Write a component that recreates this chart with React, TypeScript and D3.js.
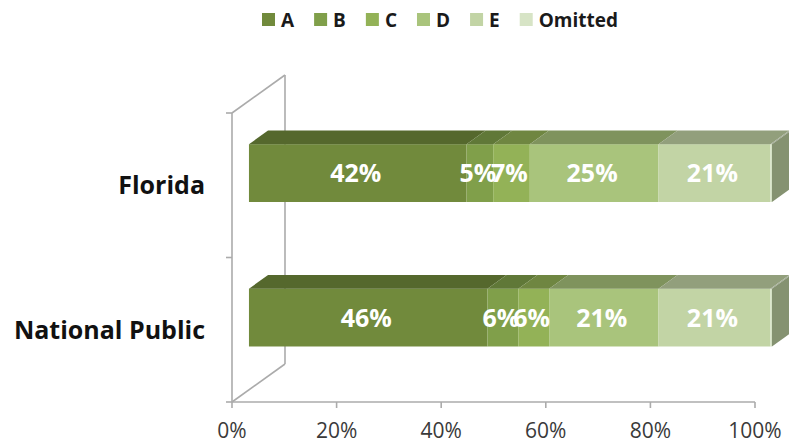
import * as d3 from "d3";
import {useEffect, useRef} from "react";

const categories = ["Florida", "National Public"];
const seriesNames = ["A", "B", "C", "D", "E", "Omitted"];
const floridaValues = [41.6, 5.1, 7.0, 24.6, 21.4, 0.3];
const nationalValues = [45.6, 5.9, 5.9, 20.9, 21.4, 0.3];
const xTicks = [0, 20, 40, 60, 80, 100];
const seriesColors = ["#718a3c", "#809f4a", "#93b257", "#a9c47c", "#c2d4a5", "#d7e4c6"];

const W = 789;
const H = 442;

const App = () => {
    const svgRef = useRef(null);

    useEffect(() => {
        if (!svgRef.current) return;
        const svg = d3.select(svgRef.current);
        svg.selectAll("*").remove();

        const font = "'Open Sans', sans-serif";
        const rows = [floridaValues, nationalValues];

        // front plane of the 3D box
        const plot = {left: 232, right: 755, top: 113, bottom: 402};
        const depth = {dx: 53, dy: -38};
        const barFront = 0.32, barBack = 0.68; // bar position inside the depth

        const x = d3.scaleLinear().domain([0, 100]).range([plot.left, plot.right]);
        const y = d3.scaleBand<string>()
            .domain(categories)
            .range([plot.top, plot.bottom])
            .paddingInner(0.6)
            .paddingOuter(0.3);

        const wall = svg.append("g")
            .attr("fill", "none")
            .attr("stroke", "#ababab")
            .attr("stroke-width", 1.6);

        // walls edges + value axis line
        const lines: [number, number, number, number][] = [
            [plot.left, plot.top, plot.left, plot.bottom],
            [plot.left + depth.dx, plot.top + depth.dy, plot.left + depth.dx, plot.bottom + depth.dy],
            [plot.left, plot.top, plot.left + depth.dx, plot.top + depth.dy],
            [plot.left, plot.bottom, plot.left + depth.dx, plot.bottom + depth.dy],
            [plot.left, plot.bottom, plot.right, plot.bottom],
        ];
        wall.selectAll("line.edge")
            .data(lines)
            .enter()
            .append("line")
            .attr("class", "edge")
            .attr("x1", d => d[0]).attr("y1", d => d[1])
            .attr("x2", d => d[2]).attr("y2", d => d[3]);

        // category ticks on the left edge (band boundaries)
        const catTicks = [plot.top, ...categories.slice(1).map(c => y(c)! - y.step() * y.paddingInner() / 2), plot.bottom];
        wall.selectAll("line.ctick")
            .data(catTicks)
            .enter()
            .append("line")
            .attr("x1", plot.left - 6).attr("x2", plot.left)
            .attr("y1", d => d).attr("y2", d => d);

        // value ticks
        wall.selectAll("line.xtick")
            .data(xTicks)
            .enter()
            .append("line")
            .attr("x1", d => x(d)).attr("x2", d => x(d))
            .attr("y1", plot.bottom).attr("y2", plot.bottom + 6);

        svg.append("g")
            .selectAll("text")
            .data(xTicks)
            .enter()
            .append("text")
            .attr("x", d => x(d))
            .attr("y", 438)
            .attr("text-anchor", "middle")
            .attr("font-family", font)
            .attr("font-size", 21)
            .attr("fill", "#3a3a3a")
            .text(d => d + "%");

        // category labels
        svg.append("g")
            .selectAll("text")
            .data(categories)
            .enter()
            .append("text")
            .attr("x", 205)
            .attr("y", d => y(d)! + y.bandwidth() / 2)
            .attr("dy", "0.36em")
            .attr("text-anchor", "end")
            .attr("font-family", font)
            .attr("font-weight", "bold")
            .attr("font-size", 25)
            .attr("fill", "#111")
            .text(d => d);

        // bars
        const fx = depth.dx * barFront, fy = depth.dy * barFront;
        const tx = depth.dx * (barBack - barFront), ty = depth.dy * (barBack - barFront);

        rows.forEach((vals, ri) => {
            const cat = categories[ri];
            const y0 = y(cat)! + fy;
            const h = y.bandwidth();
            const g = svg.append("g");
            let cum = 0;
            const segs = vals.map((v, i) => {
                const s = {i, v, start: cum, end: cum + v};
                cum += v;
                return s;
            });

            segs.forEach(s => {
                const x0 = x(s.start) + fx, x1 = x(s.end) + fx;
                const base = seriesColors[s.i];
                g.append("rect")
                    .attr("x", x0).attr("y", y0)
                    .attr("width", x1 - x0).attr("height", h)
                    .attr("fill", base);
                g.append("path")
                    .attr("d", `M${x0},${y0}L${x1},${y0}L${x1 + tx},${y0 + ty}L${x0 + tx},${y0 + ty}Z`)
                    .attr("fill", d3.color(base)!.darker(0.8).toString());
            });

            // right side face
            const last = segs[segs.length - 1];
            const xr = x(last.end) + fx;
            g.append("path")
                .attr("d", `M${xr},${y0}L${xr + tx},${y0 + ty}L${xr + tx},${y0 + ty + h}L${xr},${y0 + h}Z`)
                .attr("fill", d3.color(seriesColors[4])!.darker(1.05).toString());

            g.selectAll("text")
                .data(segs.filter(s => s.v >= 1))
                .enter()
                .append("text")
                .attr("x", s => (x(s.start) + x(s.end)) / 2 + fx - 2)
                .attr("y", y0 + h / 2)
                .attr("dy", "0.36em")
                .attr("text-anchor", "middle")
                .attr("font-family", font)
                .attr("font-weight", "bold")
                .attr("font-size", 25)
                .attr("fill", "#fff")
                .text(s => Math.round(s.v) + "%");
        });

        // legend
        const legend = svg.append("g");
        let lx = 262;
        seriesNames.forEach((name, i) => {
            legend.append("rect")
                .attr("x", lx).attr("y", 13)
                .attr("width", 13).attr("height", 13)
                .attr("fill", seriesColors[i]);
            const t = legend.append("text")
                .attr("x", lx + 19)
                .attr("y", 27)
                .attr("font-family", font)
                .attr("font-weight", "bold")
                .attr("font-size", 19)
                .attr("fill", "#1a1a1a")
                .text(name);
            const w = (t.node() as SVGTextElement).getComputedTextLength();
            lx += 19 + w + 20;
        });
    }, []);

    return <svg ref={svgRef} width={W} height={H}
                style={{position: "absolute", left: 0, top: 0, background: "#fff"}}/>;
};

export default App;
